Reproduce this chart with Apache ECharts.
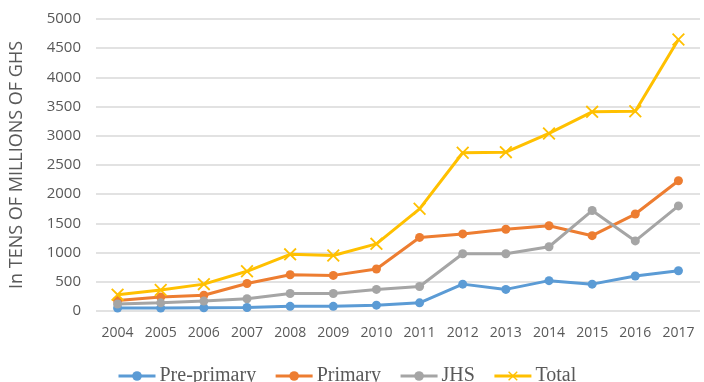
<!DOCTYPE html>
<html>
<head>
<meta charset="utf-8">
<script src="https://cdn.jsdelivr.net/npm/echarts@6/dist/echarts.min.js"></script>
<style>
  html, body { margin: 0; padding: 0; background: #fff; }
  #chart { width: 704px; height: 382px; }
</style>
</head>
<body>
<div id="chart"></div>
<script>
// years on the x axis
var years = ['2004', '2005', '2006', '2007', '2008', '2009', '2010',
             '2011', '2012', '2013', '2014', '2015', '2016', '2017'];

// spending, in tens of millions of GHS
var prePrimary = [50, 50, 55, 60, 80, 80, 100, 140, 460, 370, 520, 460, 600, 690];
var primary    = [180, 240, 270, 470, 620, 610, 720, 1260, 1320, 1400, 1460, 1290, 1660, 2230];
var jhs        = [120, 140, 170, 210, 300, 300, 370, 420, 980, 980, 1100, 1720, 1200, 1800];
var total      = [280, 360, 460, 680, 970, 950, 1150, 1750, 2710, 2720, 3040, 3410, 3420, 4650];

var seriesNames = ['Pre-primary', 'Primary', 'JHS', 'Total'];
var colors = ['#5B9BD5', '#ED7D31', '#A5A5A5', '#FFC000'];

// X-shaped marker for the Total line
var crossSymbol = 'path://M0,1L1,0L5,4L9,0L10,1L6,5L10,9L9,10L5,6L1,10L0,9L4,5Z';

function makeLine(name, data, color, symbol) {
	return {
		name: name,
		type: 'line',
		data: data,
		symbol: symbol,
		symbolSize: symbol === 'circle' ? 9 : 13,
		lineStyle: { color: color, width: 3 },
		itemStyle: { color: color },
		emphasis: { disabled: true }
	};
}

var chart = echarts.init(document.getElementById('chart'));
chart.setOption({
	animation: false,
	color: colors,
	grid: {
		left: 95,
		right: 4,
		top: 19,
		bottom: 71
	},
	legend: {
		data: seriesNames,
		left: 112,
		top: 361,
		itemWidth: 37,
		itemHeight: 12,
		itemGap: 18,
		lineStyle: { width: 3 },
		textStyle: {
			fontFamily: 'Liberation Serif',
			fontSize: 20,
			color: '#595959',
			padding: [0, 0, 0, -1]
		}
	},
	xAxis: {
		type: 'category',
		data: years,
		boundaryGap: true,
		axisLine: { show: false },
		axisTick: { show: false },
		axisLabel: {
			fontFamily: 'Open Sans',
			fontSize: 14,
			color: '#595959',
			margin: 15
		}
	},
	yAxis: {
		type: 'value',
		min: 0,
		max: 5000,
		interval: 500,
		name: 'In TENS OF MILLIONS OF GHS',
		nameLocation: 'middle',
		nameGap: 70,
		nameTextStyle: {
			fontFamily: 'Open Sans',
			fontSize: 18,
			color: '#595959'
		},
		axisLine: { show: false },
		axisTick: { show: false },
		axisLabel: {
			fontFamily: 'Open Sans',
			fontSize: 15,
			color: '#595959',
			margin: 15,
			formatter: function (v) { return String(v); }
		},
		splitLine: {
			lineStyle: { color: '#D9D9D9', width: 1.5 }
		}
	},
	series: [
		makeLine(seriesNames[0], prePrimary, colors[0], 'circle'),
		makeLine(seriesNames[1], primary, colors[1], 'circle'),
		makeLine(seriesNames[2], jhs, colors[2], 'circle'),
		makeLine(seriesNames[3], total, colors[3], crossSymbol)
	]
});
</script>
</body>
</html>
